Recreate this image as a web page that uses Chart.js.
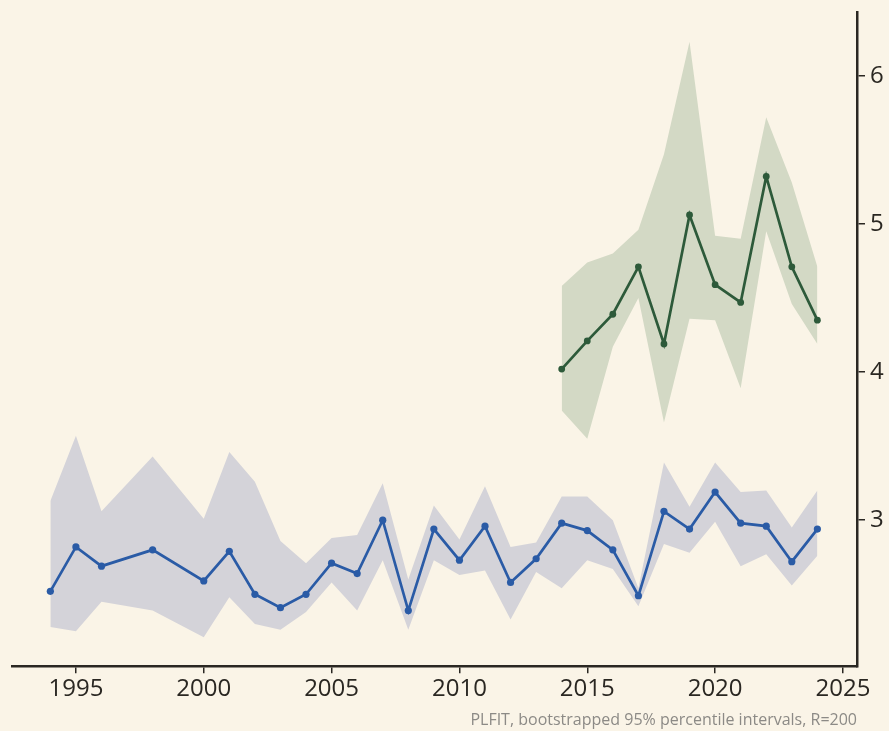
<!DOCTYPE html>
<html>
<head>
<meta charset="utf-8">
<script src="https://cdn.jsdelivr.net/npm/chart.js@4.4.1/dist/chart.umd.min.js"></script>
<style>
  html, body { margin: 0; padding: 0; background: #FAF4E7; }
  #wrap { width: 889px; height: 731px; }
</style>
</head>
<body>
<div id="wrap"><canvas id="c" width="889" height="731"></canvas></div>
<script>
// ---- data ----
const blueYears = [1994, 1995, 1996, 1998, 2000, 2001, 2002, 2003, 2004, 2005, 2006, 2007, 2008, 2009, 2010, 2011, 2012, 2013, 2014, 2015, 2016, 2017, 2018, 2019, 2020, 2021, 2022, 2023, 2024];
const blueMid  = [2.52, 2.82, 2.69, 2.80, 2.59, 2.79, 2.50, 2.41, 2.50, 2.71, 2.64, 3.00, 2.39, 2.94, 2.73, 2.96, 2.58, 2.74, 2.98, 2.93, 2.80, 2.49, 3.06, 2.94, 3.19, 2.98, 2.96, 2.72, 2.94];
const blueHigh = [3.13, 3.57, 3.06, 3.43, 3.01, 3.46, 3.26, 2.86, 2.71, 2.88, 2.90, 3.25, 2.60, 3.10, 2.87, 3.23, 2.82, 2.85, 3.16, 3.16, 3.00, 2.54, 3.39, 3.09, 3.39, 3.19, 3.20, 2.95, 3.20];
const blueLow  = [2.28, 2.25, 2.45, 2.39, 2.21, 2.48, 2.30, 2.26, 2.38, 2.58, 2.39, 2.73, 2.26, 2.73, 2.63, 2.66, 2.33, 2.65, 2.54, 2.73, 2.67, 2.42, 2.84, 2.78, 2.99, 2.69, 2.77, 2.56, 2.76];

const greenYears = [2014, 2015, 2016, 2017, 2018, 2019, 2020, 2021, 2022, 2023, 2024];
const greenMid  = [4.02, 4.21, 4.39, 4.71, 4.19, 5.06, 4.59, 4.47, 5.32, 4.71, 4.35];
const greenHigh = [4.58, 4.74, 4.80, 4.96, 5.47, 6.23, 4.92, 4.90, 5.72, 5.28, 4.71];
const greenLow  = [3.74, 3.55, 4.17, 4.50, 3.66, 4.36, 4.35, 3.89, 4.95, 4.46, 4.19];

const xTicks = [1995, 2000, 2005, 2010, 2015, 2020, 2025];
const yTicks = [3, 4, 5, 6];
const caption = 'PLFIT, bootstrapped 95% percentile intervals, R=200';

// ---- helpers ----
const pts = (xs, ys) => xs.map((x, i) => ({ x: x, y: ys[i] }));

const AXIS = '#2A2722';
const FONT = "'Open Sans', 'DejaVu Sans', sans-serif";

const bgPlugin = {
  id: 'bg',
  beforeDraw(chart) {
    const ctx = chart.ctx;
    ctx.save();
    ctx.fillStyle = '#FAF4E7';
    ctx.fillRect(0, 0, chart.width, chart.height);
    ctx.restore();
  }
};

new Chart(document.getElementById('c'), {
  type: 'line',
  data: {
    datasets: [
      { data: pts(blueYears, blueHigh), borderWidth: 0, pointRadius: 0, backgroundColor: '#D4D3D9', fill: '+1', order: 5 },
      { data: pts(blueYears, blueLow), borderWidth: 0, pointRadius: 0, fill: false, order: 5 },
      { data: pts(greenYears, greenHigh), borderWidth: 0, pointRadius: 0, backgroundColor: '#D3D9C5', fill: '+1', order: 5 },
      { data: pts(greenYears, greenLow), borderWidth: 0, pointRadius: 0, fill: false, order: 5 },
      { data: pts(blueYears, blueMid), borderColor: '#2A5BA6', backgroundColor: '#2A5BA6', borderWidth: 2.7, pointRadius: 3.6, pointBorderWidth: 0, fill: false, order: 1 },
      { data: pts(greenYears, greenMid), borderColor: '#2D5A3A', backgroundColor: '#2D5A3A', borderWidth: 2.7, pointRadius: 3.4, pointBorderWidth: 0, fill: false, order: 1 }
    ]
  },
  options: {
    responsive: false,
    animation: false,
    events: [],
    layout: { padding: { left: 12, top: 12, right: 0, bottom: 0 } },
    plugins: {
      legend: { display: false },
      tooltip: { enabled: false },
      title: {
        display: true,
        text: caption,
        position: 'bottom',
        align: 'end',
        fullSize: false,
        color: '#8C8A86',
        font: { family: FONT, size: 16, weight: 'normal', lineHeight: 1.2 },
        padding: { top: 4, bottom: 1 }
      }
    },
    scales: {
      x: {
        type: 'linear',
        min: 1992.5,
        max: 2025.55,
        afterBuildTicks(scale) { scale.ticks = xTicks.map(v => ({ value: v })); },
        afterFit(scale) { scale.height = 40.5; scale.paddingLeft = 0; scale.paddingRight = 0; },
        ticks: {
          color: AXIS,
          font: { family: FONT, size: 24 },
          padding: 1,
          maxRotation: 0,
          autoSkip: false,
          callback: v => String(v)
        },
        grid: { drawOnChartArea: false, drawTicks: true, tickLength: 7, color: AXIS, lineWidth: 1.5 },
        border: { display: true, color: AXIS, width: 2.5 }
      },
      y: {
        type: 'linear',
        position: 'right',
        min: 2.014,
        max: 6.43,
        afterBuildTicks(scale) { scale.ticks = yTicks.map(v => ({ value: v })); },
        afterFit(scale) { scale.width = 32; scale.paddingTop = 0; scale.paddingBottom = 0; },
        ticks: {
          color: AXIS,
          font: { family: FONT, size: 24 },
          padding: 5,
          callback: v => String(v)
        },
        grid: { drawOnChartArea: false, drawTicks: true, tickLength: 8, color: AXIS, lineWidth: 1.5 },
        border: { display: true, color: AXIS, width: 2.5 }
      }
    }
  },
  plugins: [bgPlugin]
});
</script>
</body>
</html>
